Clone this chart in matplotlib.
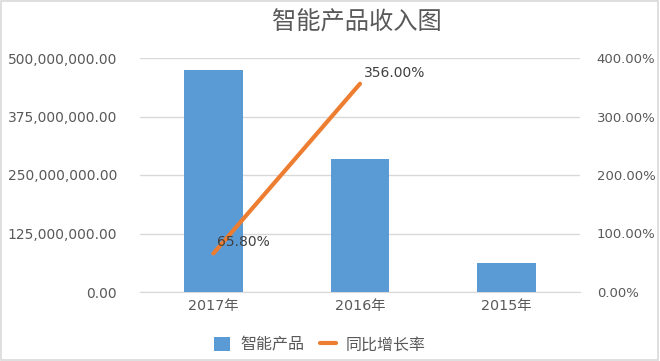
import matplotlib
matplotlib.use("Agg")
import matplotlib.pyplot as plt
from matplotlib.ticker import FuncFormatter, FixedLocator
from matplotlib.patches import Rectangle

plt.rcParams['font.family'] = ['DejaVu Sans', 'Noto Sans CJK SC']

title = "智能产品收入图"
categories = ["2017年", "2016年", "2015年"]
revenue = [474000000, 285000000, 62000000]
growth_cats = ["2017年", "2016年"]
growth = [65.80, 356.00]
bar_name = "智能产品"
line_name = "同比增长率"
left_ticks = [0, 125000000, 250000000, 375000000, 500000000]
right_ticks = [0, 100, 200, 300, 400]

txt = '#595959'
cjk = ['Noto Sans CJK SC', 'DejaVu Sans']
fig = plt.figure(figsize=(6.6, 3.61), dpi=100)
ax = fig.add_axes([140/660, 1-292/361, 440/660, 234/361])
x = list(range(len(categories)))
bars = ax.bar(x, revenue, width=0.4, color='#5b9bd5', zorder=3, label=bar_name)
ax.set_xlim(-0.5, len(categories)-0.5)
ax.set_ylim(0, 500000000)
ax.yaxis.set_major_locator(FixedLocator(left_ticks))
ax.yaxis.set_major_formatter(FuncFormatter(lambda v, p: f"{v:,.2f}"))
ax.grid(axis='y', color='#d9d9d9', linewidth=1, zorder=0)
ax.set_xticks(x)
ax.set_xticklabels(categories)
for s in ['top', 'right', 'left']:
    ax.spines[s].set_visible(False)
ax.spines['bottom'].set_color('#d9d9d9')
ax.tick_params(axis='y', length=0, pad=16.5, labelsize=10, labelcolor=txt)
ax.tick_params(axis='x', length=0, pad=5, labelsize=10.3, labelcolor=txt)

ax2 = ax.twinx()
gx = [categories.index(c) for c in growth_cats]
line, = ax2.plot(gx, growth, color='#ed7d31', linewidth=3, solid_capstyle='round', zorder=4, label=line_name)
ax2.set_ylim(0, 400)
ax2.yaxis.set_major_locator(FixedLocator(right_ticks))
ax2.yaxis.set_major_formatter(FuncFormatter(lambda v, p: f"{v:.2f}%"))
for s in ax2.spines.values():
    s.set_visible(False)
ax2.tick_params(axis='y', length=0, pad=12, labelsize=9.5, labelcolor=txt)
for xi, g in zip(gx, growth):
    ax2.annotate(f"{g:.2f}%", (xi, g), xytext=(3, 3), textcoords='offset points',
                 fontsize=10, color='#404040', ha='left', va='bottom', zorder=5)

fig.text(357/660, 1-23/361, title, ha='center', va='center', fontsize=17.5, color=txt, family=cjk)
fig.legend([bars, line], [bar_name, line_name], loc='center', bbox_to_anchor=(320/660, 1-345/361),
           ncol=2, frameon=False, prop={'family': cjk, 'size': 11.5}, labelcolor=txt,
           handlelength=1.0, handleheight=1.0, columnspacing=1.0, handletextpad=0.6)
fig.patches.append(Rectangle((0.002, 0.003), 0.995, 0.994, transform=fig.transFigure,
                             fill=False, edgecolor='#d9d9d9', linewidth=1.2))
fig.savefig("out.png", dpi=100)
